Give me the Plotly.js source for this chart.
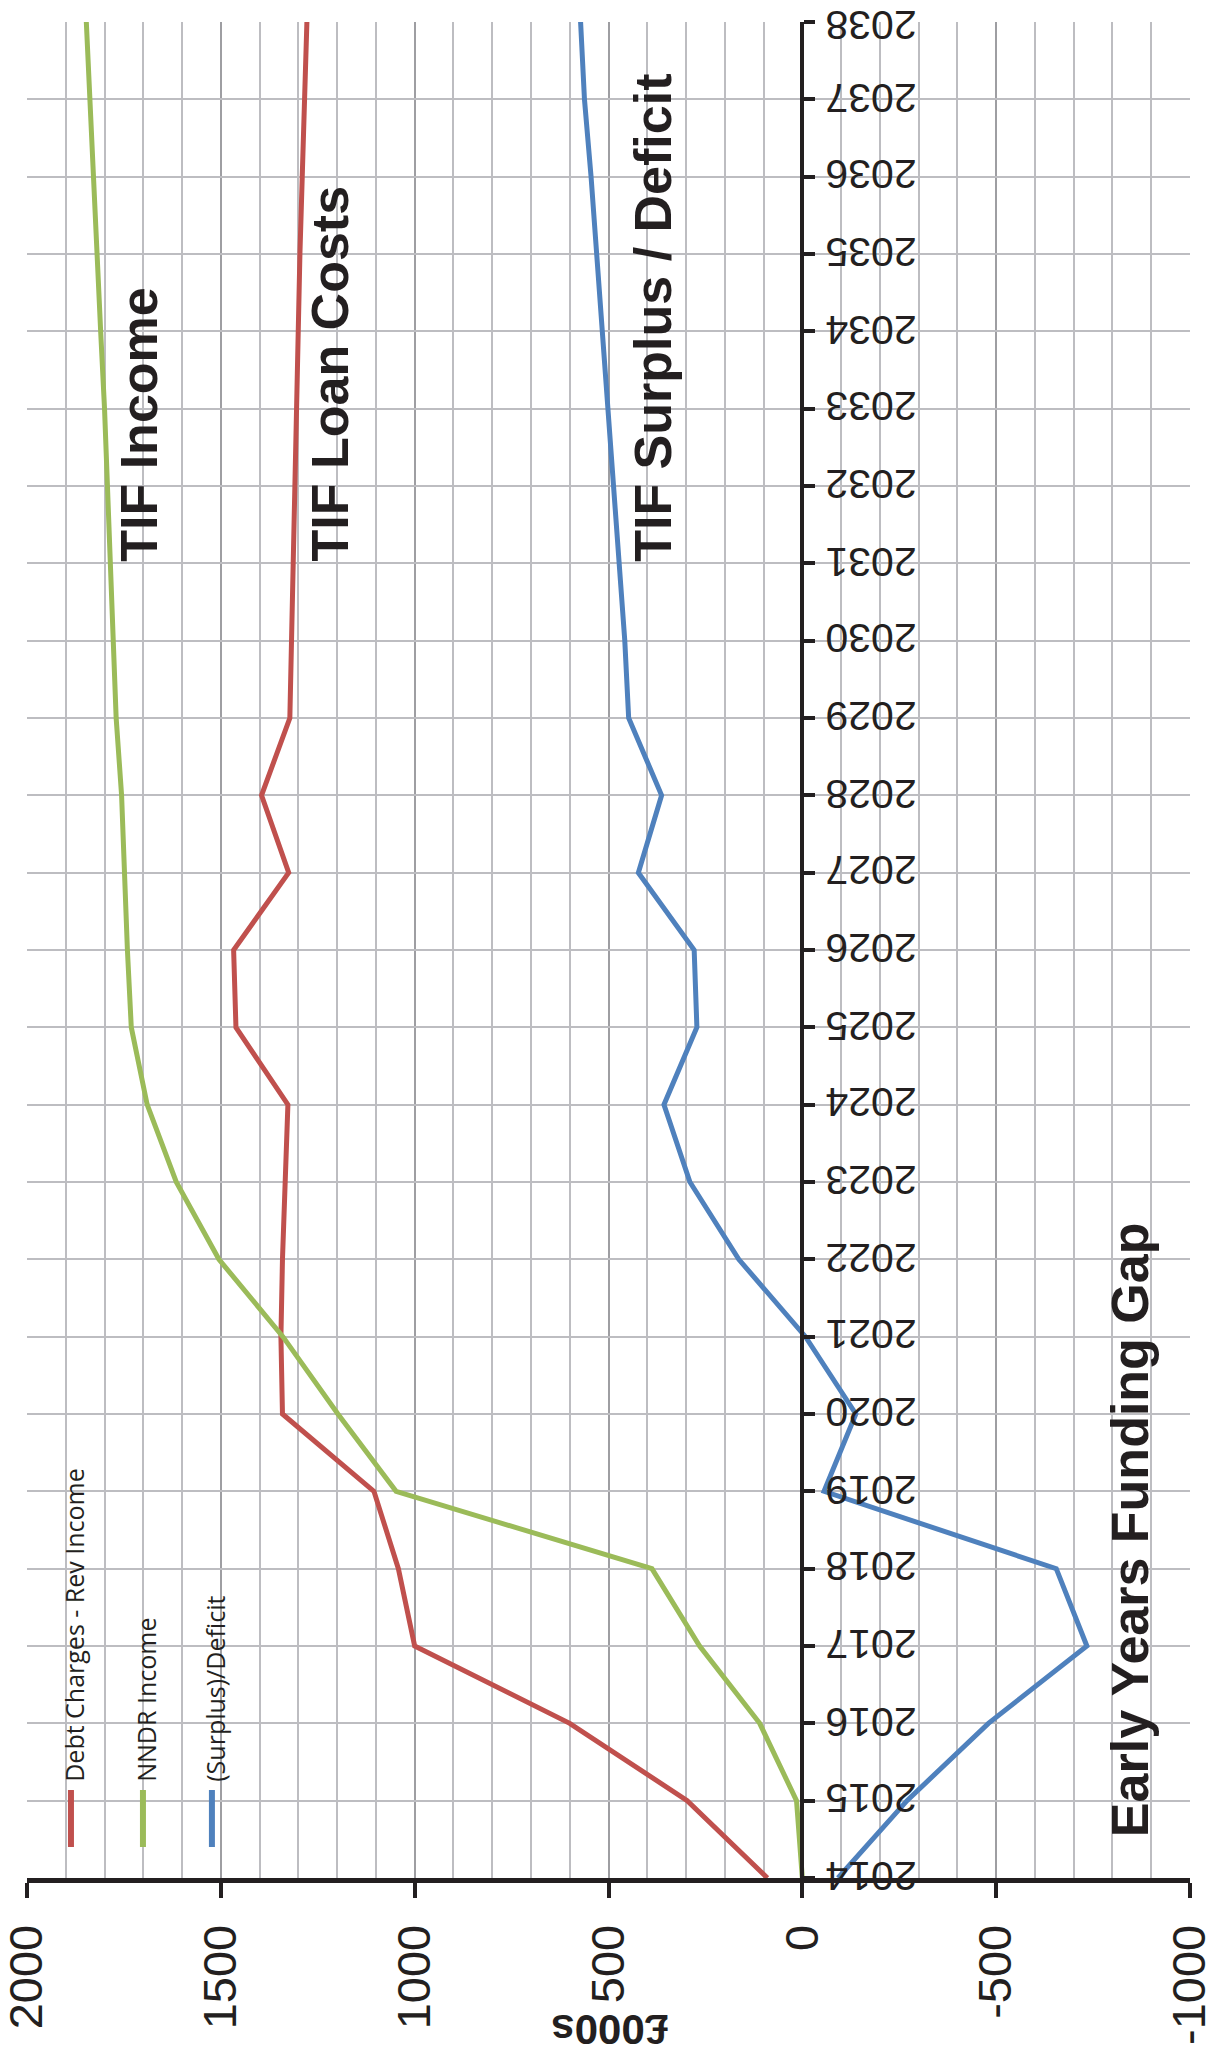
<!DOCTYPE html>
<html>
<head>
<meta charset="utf-8">
<script src="https://cdn.plot.ly/plotly-3.0.1.min.js"></script>
<style>
  html, body { margin: 0; padding: 0; background: #ffffff; }
  #chart { width: 1215px; height: 2058px; }
</style>
</head>
<body>
<div id="chart"></div>
<script>
// ---- data (values in £000s) ----
const years = [2014, 2015, 2016, 2017, 2018, 2019, 2020, 2021, 2022, 2023, 2024, 2025, 2026,
               2027, 2028, 2029, 2030, 2031, 2032, 2033, 2034, 2035, 2036, 2037, 2038];
const debtCharges = [90, 297, 600, 1000, 1042, 1105, 1341, 1345, 1341, 1335, 1327, 1461, 1467,
                     1325, 1395, 1322, 1318, 1314, 1310, 1305, 1300, 1296, 1290, 1284, 1278];
const nndrIncome = [0, 15, 110, 265, 388, 1048, 1198, 1340, 1505, 1615, 1690, 1731, 1741,
                    1750, 1756, 1770, 1777, 1786, 1793, 1800, 1810, 1820, 1830, 1840, 1847];
const surplusDeficit = [-92, -270, -480, -734, -655, -56, -138, -8, 164, 290, 357, 272, 279,
                        423, 363, 448, 458, 472, 486, 500, 515, 528, 545, 562, 572];
const seriesNames = ["Debt Charges - Rev Income", "NNDR Income", "(Surplus)/Deficit"];
const seriesColors = ["#C0504D", "#9BBB59", "#4F81BD"];
const valueTicks = [2000, 1500, 1000, 500, 0, -500, -1000];
const yearLabels = years.map(String);
const axisTitle = "£000s";
const labels = [
  {text: "TIF Income", x: 1710, y: 2031},
  {text: "TIF Loan Costs", x: 1218, y: 2031},
  {text: "TIF Surplus / Deficit", x: 384, y: 2031},
  {text: "Early Years Funding Gap", x: -846, y: 2014.5}
];

const ink = "#231f20";
const bold = "Liberation Sans, Arial, Helvetica, sans-serif";

const seriesValues = [debtCharges, nndrIncome, surplusDeficit];
const data = seriesValues.map((vals, i) => ({
  type: "scatter",
  mode: "lines",
  name: seriesNames[i],
  x: vals,
  y: years,
  line: {color: seriesColors[i], width: 5},
  showlegend: false,
  hoverinfo: "x+y+name"
}));

// Legend drawn manually (rotated, bottom-left)
const legendX = [0.0378, 0.0997, 0.159];
const shapes = legendX.map((lx, i) => ({
  type: "line", xref: "paper", yref: "paper",
  x0: lx, x1: lx, y0: 0.0167, y1: 0.0474,
  line: {color: seriesColors[i], width: 6}
}));
const annotations = legendX.map((lx, i) => ({
  xref: "paper", yref: "paper", x: lx + 0.003, y: 0.051,
  xanchor: "center", yanchor: "bottom",
  text: seriesNames[i], textangle: -90, showarrow: false,
  font: {family: "Open Sans, sans-serif", size: 25, color: ink}
}));

labels.forEach(l => annotations.push({
  xref: "x", yref: "y", x: l.x, y: l.y,
  xanchor: "center", yanchor: "bottom",
  text: l.text, textangle: -90, showarrow: false,
  font: {family: bold, size: 52, color: ink, weight: "bold"}
}));

// Year labels (upside down, to the right of the year axis line at value 0)
const lastYear = years[years.length - 1];
years.forEach((yr, i) => annotations.push({
  xref: "x", yref: "y", x: 0, y: yr,
  xanchor: "left", yanchor: "middle",
  xshift: 22, yshift: yr === lastYear ? -3 : 2,
  borderpad: 0,
  text: yearLabels[i], textangle: 180, showarrow: false,
  font: {family: bold, size: 41, color: ink}
}));

annotations.push({
  xref: "paper", yref: "paper", x: 0.5013, y: -0.082,
  xanchor: "center", yanchor: "middle",
  text: axisTitle, textangle: 180, showarrow: false,
  font: {family: bold, size: 42, color: ink, weight: "bold"}
});

const layout = {
  width: 1215, height: 2058,
  margin: {l: 27, r: 25, t: 22, b: 180},
  paper_bgcolor: "#ffffff",
  plot_bgcolor: "#ffffff",
  showlegend: false,
  xaxis: {
    range: [2000, -1000],
    tickmode: "array",
    tickvals: valueTicks,
    ticktext: valueTicks.map(String),
    ticks: "outside", ticklen: 15, tickwidth: 4, tickcolor: ink,
    showline: true, linewidth: 5, linecolor: ink,
    showgrid: true, gridcolor: "#9e9ea2", gridwidth: 2,
    minor: {dtick: 100, tick0: 0, showgrid: true, gridcolor: "#bdbdc1", gridwidth: 2, ticks: ""},
    zeroline: false,
    tickangle: -90,
    ticklabelstandoff: 8,
    ticklabeloverflow: "allow",
    tickfont: {family: bold, size: 47, color: ink}
  },
  yaxis: {
    range: [2014, 2038],
    dtick: 1, tick0: 2014,
    anchor: "free", position: 2 / 3, side: "right",
    showline: true, linewidth: 4, linecolor: ink,
    ticks: "outside", ticklen: 11, tickwidth: 4, tickcolor: ink,
    showgrid: true, gridcolor: "#bdbdc1", gridwidth: 2,
    zeroline: false,
    showticklabels: false
  },
  shapes: shapes,
  annotations: annotations
};

Plotly.newPlot("chart", data, layout, {displayModeBar: false, staticPlot: true});
</script>
</body>
</html>
